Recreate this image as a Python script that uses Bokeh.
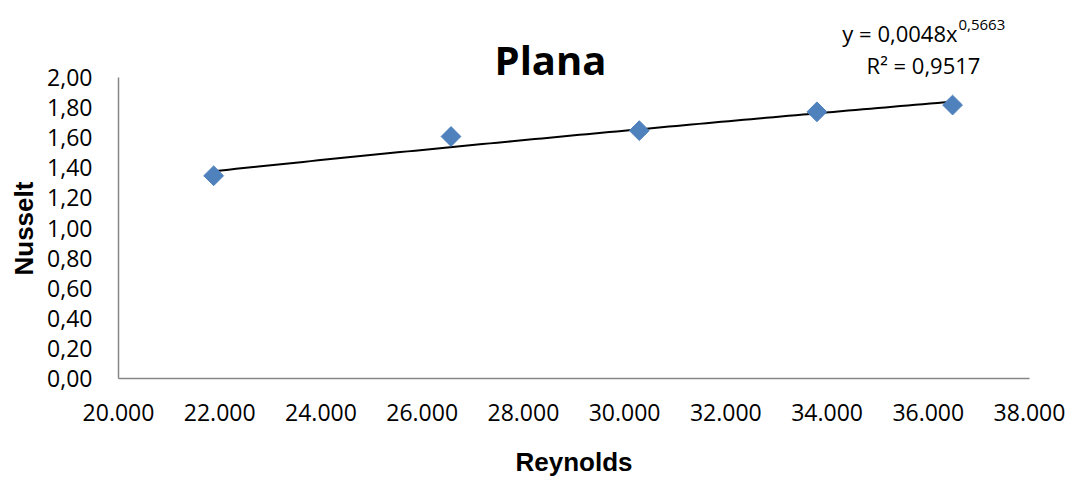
import numpy as np
from bokeh.plotting import figure
from bokeh.models import Label, FixedTicker, CustomJSTickFormatter, Range1d, Title
from bokeh.embed import file_html
from bokeh.resources import INLINE

# ---- data ----
reynolds = [21880, 26570, 30290, 33800, 36480]
nusselt = [1.347, 1.608, 1.647, 1.772, 1.817]
trend_a = 0.0048
trend_b = 0.5663
r_squared = 0.9517
title_text = "Plana"
x_title = "Reynolds"
y_title = "Nusselt"
x_ticks = [20000, 22000, 24000, 26000, 28000, 30000, 32000, 34000, 36000, 38000]
y_ticks = [0.0, 0.2, 0.4, 0.6, 0.8, 1.0, 1.2, 1.4, 1.6, 1.8, 2.0]

# ---- layout (pixels) ----
W, H = 1067, 480
FR_L, FR_R, FR_B = 118, 1029, 378   # frame edges; frame reaches canvas top
Y_TOP_PX = 77                       # pixel row of y = 2.0
X0, X1, Y0, Y1 = 20000, 38000, 0.0, 2.0
y_frame_top = Y1 * FR_B / (FR_B - Y_TOP_PX)   # data value at canvas top

p = figure(width=W, height=H, output_backend="svg", toolbar_location=None,
           x_range=Range1d(X0, X1), y_range=Range1d(Y0, y_frame_top),
           min_border_left=FR_L, min_border_right=W - FR_R,
           min_border_top=0, min_border_bottom=H - FR_B)
p.title.visible = False
p.outline_line_color = None
p.background_fill_color = "white"
p.border_fill_color = "white"
p.xgrid.grid_line_color = None
p.ygrid.grid_line_color = None

FONT = "Open Sans"
for ax in (p.xaxis[0], p.yaxis[0]):
    ax.axis_line_color = "#868686"
    ax.axis_line_width = 1.5
    ax.major_tick_line_color = None
    ax.minor_tick_line_color = None
    ax.major_tick_out = 0
    ax.major_tick_in = 0
    ax.major_label_text_font = FONT
    ax.major_label_text_font_size = "23px"
    ax.major_label_text_color = "black"

p.xaxis[0].ticker = FixedTicker(ticks=x_ticks)
p.yaxis[0].ticker = FixedTicker(ticks=y_ticks)
p.yaxis[0].bounds = (Y0, Y1)
p.xaxis[0].major_label_standoff = 25
p.yaxis[0].major_label_standoff = 26
p.xaxis[0].formatter = CustomJSTickFormatter(code="""
    const s = Math.round(tick).toString();
    return s.replace(/\\B(?=(\\d{3})+(?!\\d))/g, '.');
""")
p.yaxis[0].formatter = CustomJSTickFormatter(code="""
    return tick.toFixed(2).replace('.', ',');
""")

# x axis title
p.xaxis[0].axis_label = x_title
p.xaxis[0].axis_label_text_font = "Liberation Sans"
p.xaxis[0].axis_label_text_font_style = "bold"
p.xaxis[0].axis_label_text_font_size = "26px"
p.xaxis[0].axis_label_text_color = "black"
p.xaxis[0].axis_label_standoff = 23

# y axis title (as a side title so it can be centred on the 0..2 span)
p.add_layout(Title(text=y_title, text_font="Liberation Sans",
                   text_font_style="bold", text_font_size="26px",
                   text_color="black", align="left", offset=103,
                   standoff=12), "left")

# trend line (power fit shown in the chart)
tx = np.linspace(min(reynolds), max(reynolds), 100)
ty = trend_a * tx ** trend_b
p.line(tx, ty, line_color="black", line_width=2)

# markers
p.scatter(reynolds, nusselt, marker="square", size=14, angle=np.pi / 4,
          fill_color="#4F81BD", line_color="#4F81BD")


# helpers: canvas pixel -> data coordinates (for text placement)
def dx(sx):
    return X0 + (sx - FR_L) * (X1 - X0) / (FR_R - FR_L)


def dy(sy):
    return Y0 + (FR_B - sy) * (Y1 - Y0) / (FR_B - Y_TOP_PX)


def lab(text, sx, sy, size, bold=False, font=FONT, align="center",
        baseline="alphabetic"):
    p.add_layout(Label(x=dx(sx), y=dy(sy), text=text, text_font=font,
                       text_font_size=size,
                       text_font_style="bold" if bold else "normal",
                       text_align=align, text_baseline=baseline,
                       text_color="black"))


lab(title_text, 550, 59, "40px", bold=True)

fmt = lambda v: f"{v}".replace(".", ",")
lab("y = " + fmt(trend_a) + "x", 957, 32, "22px", align="right")
lab(fmt(trend_b), 958, 24, "15px", align="left")
lab("R² = " + fmt(r_squared), 923, 64, "22px")

open("out.html", "w").write(file_html(p, INLINE))
